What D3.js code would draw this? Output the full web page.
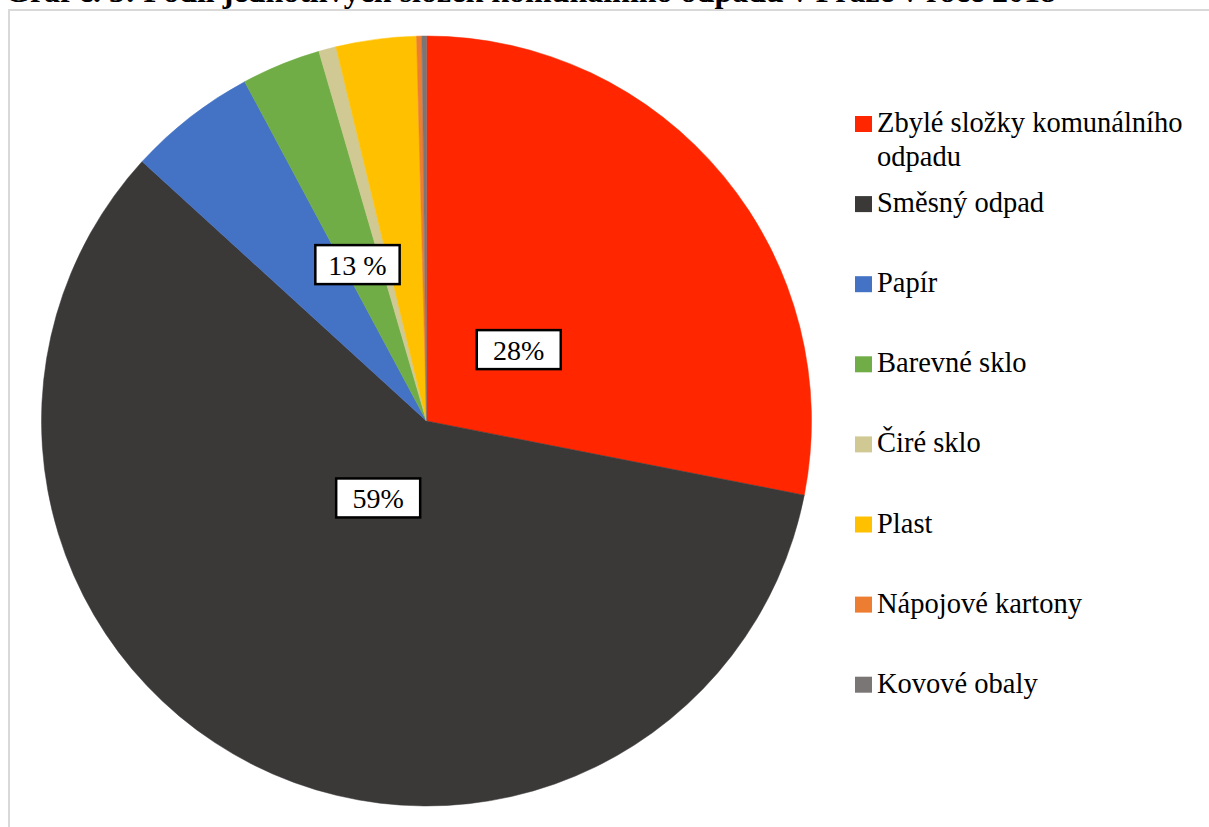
<!DOCTYPE html>
<html lang="cs">
<head>
<meta charset="utf-8">
<script src="https://cdn.jsdelivr.net/npm/d3@7"></script>
<style>
  html, body { margin: 0; padding: 0; background: #fff; }
  svg { display: block; }
</style>
</head>
<body>
<svg id="chart" width="1209" height="827"></svg>
<script>
// Složky komunálního odpadu (podíl v %)
const categories = [
  "Zbylé složky komunálního odpadu",
  "Směsný odpad",
  "Papír",
  "Barevné sklo",
  "Čiré sklo",
  "Plast",
  "Nápojové kartony",
  "Kovové obaly"
];
const shares = [28.09, 58.70, 5.40, 3.32, 0.73, 3.37, 0.22, 0.19];
const colors = ["#FF2600", "#3B3938", "#4472C4", "#70AD47", "#D0C993", "#FFC000", "#ED7D31", "#7B7676"];
const legendLines = [["Zbylé složky komunálního", "odpadu"], ["Směsný odpad"], ["Papír"], ["Barevné sklo"],
  ["Čiré sklo"], ["Plast"], ["Nápojové kartony"], ["Kovové obaly"]];
const titleText = "Graf č. 3: Podíl jednotlivých složek komunálního odpadu v Praze v roce 2018";

const FONT = "Liberation Serif";
const svg = d3.select("#chart").style("font-family", FONT);

// Chart frame
svg.append("rect")
  .attr("x", 9).attr("y", 10)
  .attr("width", 1400).attr("height", 1000)
  .attr("fill", "#fff")
  .attr("stroke", "#D9D9D9").attr("stroke-width", 2);

// Title (partly above the page edge)
svg.append("text")
  .attr("x", 5).attr("y", 2)
  .style("font-family", FONT)
  .attr("font-size", 32).attr("font-weight", "bold")
  .attr("fill", "#000")
  .text(titleText);

const cx = 426.5, cy = 421, r = 385;
const data = categories.map((c, i) => ({ name: c, value: shares[i], color: colors[i] }));

const pie = d3.pie().value(d => d.value).sort(null);
const arcs = pie(data);
const arc = d3.arc().innerRadius(0).outerRadius(r);

const g = svg.append("g").attr("transform", `translate(${cx},${cy})`);
g.selectAll("path")
  .data(arcs)
  .join("path")
  .attr("d", arc)
  .attr("fill", d => d.data.color)
  .attr("stroke", d => d.data.color)
  .attr("stroke-width", 0.5);

// Data labels: two main slices and the remaining recycled components combined
const fmt = v => Math.round(v);
const restStart = arcs[2].startAngle, restEnd = arcs[arcs.length - 1].endAngle;
const restSum = d3.sum(shares.slice(2));
const labels = [
  { text: fmt(shares[0]) + "%", angle: (arcs[0].startAngle + arcs[0].endAngle) / 2 + 0.03, rad: 0.303 },
  { text: fmt(shares[1]) + "%", angle: (arcs[1].startAngle + arcs[1].endAngle) / 2 + 0.094, rad: 0.236 },
  { text: fmt(restSum) + " %", angle: (restStart + restEnd) / 2, rad: 0.444 }
];

const lg = g.selectAll("g.lbl").data(labels).join("g").attr("class", "lbl")
  .attr("transform", d => {
    const rr = r * d.rad;
    return `translate(${Math.sin(d.angle) * rr},${-Math.cos(d.angle) * rr})`;
  });
lg.append("text")
  .attr("text-anchor", "middle")
  .attr("y", 10)
  .style("font-family", FONT)
  .attr("font-size", 28)
  .attr("fill", "#000")
  .text(d => d.text);
lg.each(function () {
  const t = d3.select(this).select("text");
  const bb = t.node().getBBox();
  const w = Math.max(84, bb.width + 26), h = 39;
  d3.select(this).insert("rect", "text")
    .attr("x", -w / 2).attr("y", -h / 2)
    .attr("width", w).attr("height", h)
    .attr("fill", "#fff").attr("stroke", "#000").attr("stroke-width", 2.5);
});

// Legend
const ly = d3.scaleLinear().domain([0, 1]).range([124, 204.1]);
const leg = svg.append("g").selectAll("g")
  .data(data)
  .join("g")
  .attr("transform", (d, i) => `translate(855,${ly(i)})`);
leg.append("rect")
  .attr("x", 0).attr("y", -8)
  .attr("width", 17).attr("height", 16)
  .attr("fill", d => d.color);
leg.append("text")
  .attr("x", 22).attr("y", 0)
  .style("font-family", FONT)
  .attr("font-size", 28.5)
  .attr("fill", "#000")
  .selectAll("tspan")
  .data((d, i) => legendLines[i])
  .join("tspan")
  .attr("x", 22)
  .attr("dy", (d, j) => j === 0 ? 8 : 34)
  .text(d => d);
</script>
</body>
</html>
